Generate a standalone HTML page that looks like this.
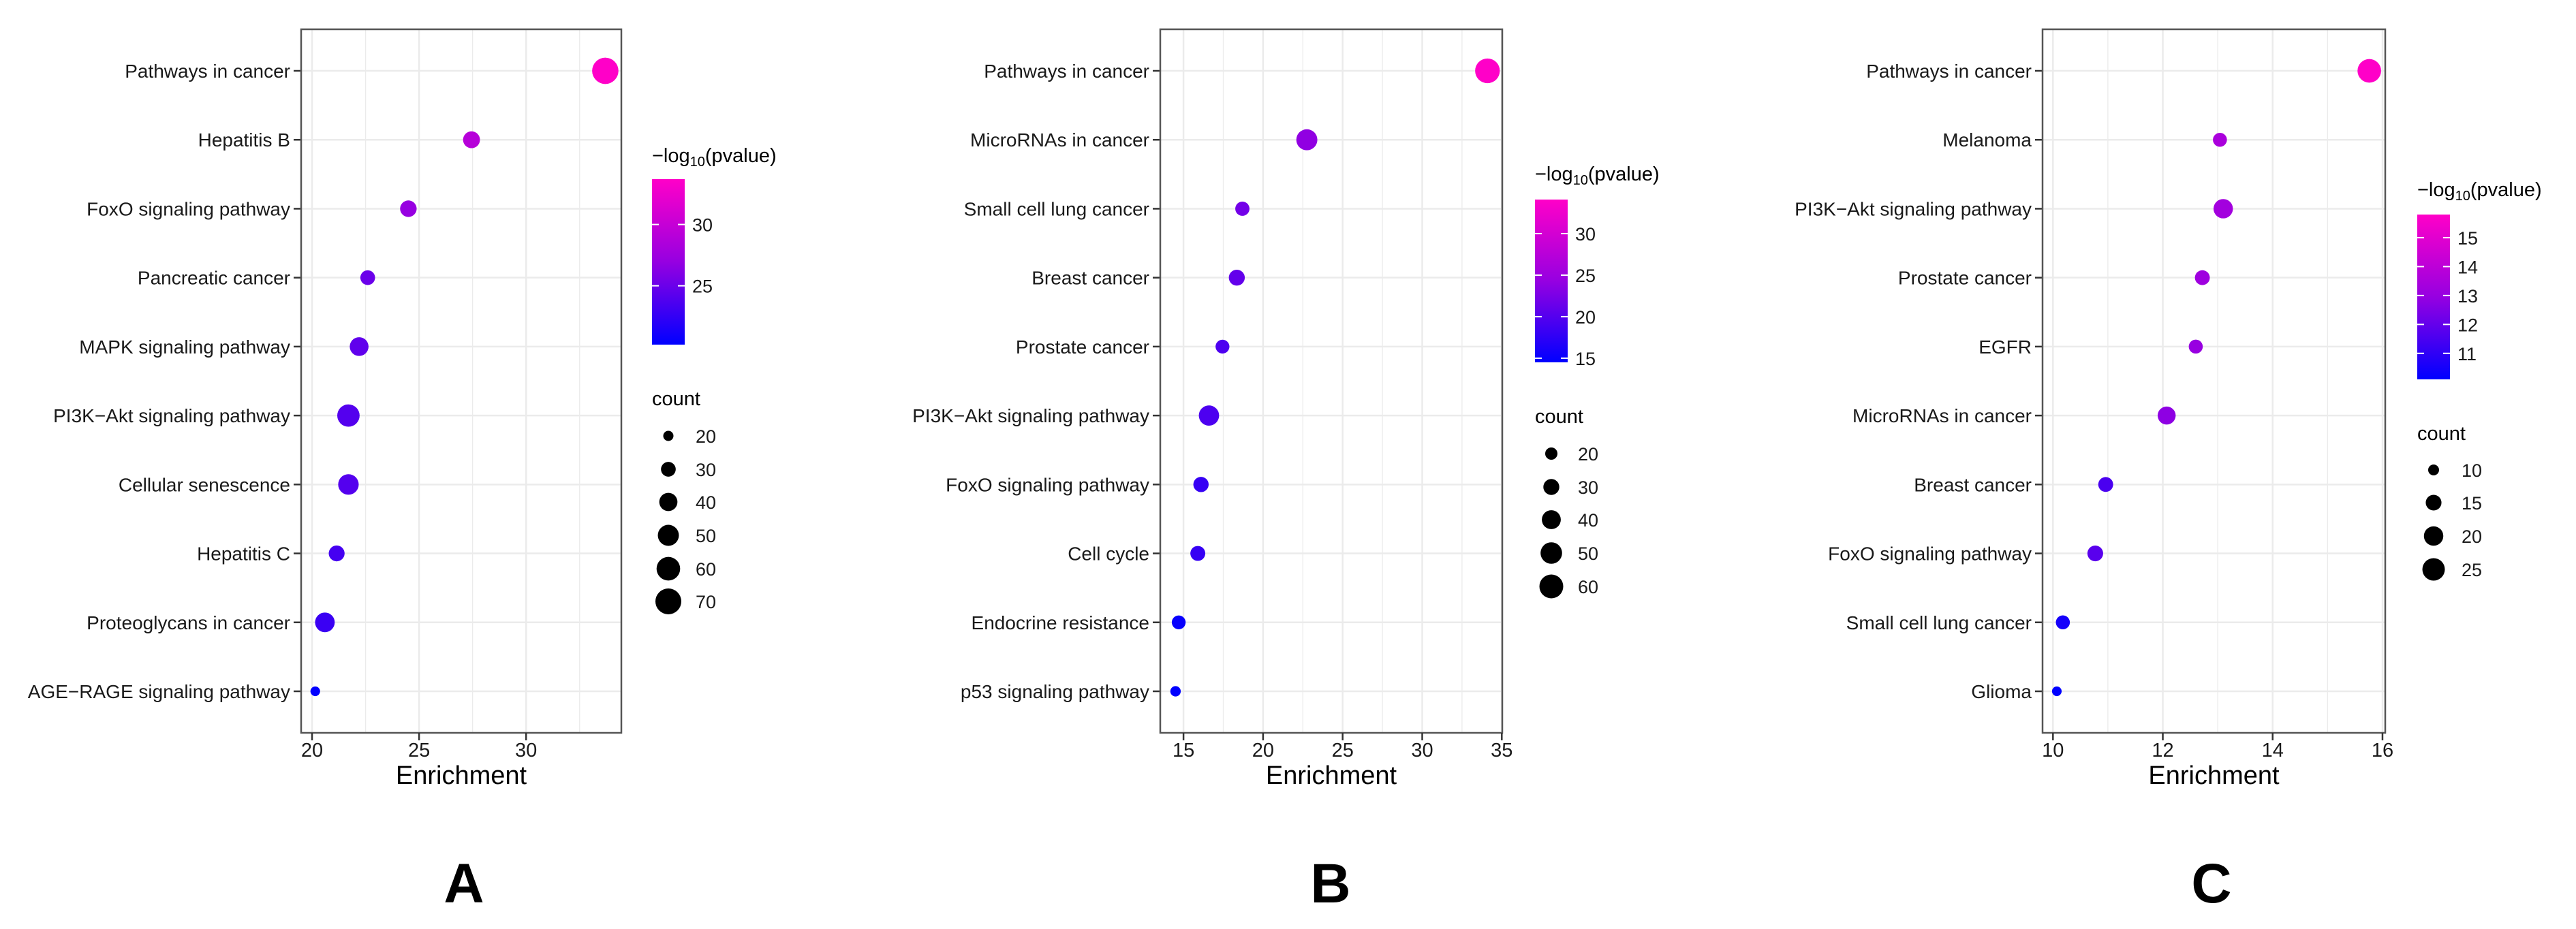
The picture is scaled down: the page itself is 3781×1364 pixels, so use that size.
<!DOCTYPE html>
<html><head><meta charset="utf-8"><style>
html,body{margin:0;padding:0;background:#fff;width:3781px;height:1364px;overflow:hidden}
svg{display:block;font-family:"Liberation Sans",Arial,sans-serif}
</style></head><body>
<svg id="fig" width="3781" height="1364" viewBox="0 0 3781 1364" xmlns="http://www.w3.org/2000/svg"></svg>
<script>
// Panel A data
const catsA = ["Pathways in cancer","Hepatitis B","FoxO signaling pathway","Pancreatic cancer","MAPK signaling pathway","PI3K\u2212Akt signaling pathway","Cellular senescence","Hepatitis C","Proteoglycans in cancer","AGE\u2212RAGE signaling pathway"];
const enrichA = [33.7,27.45,24.5,22.6,22.2,21.7,21.7,21.15,20.6,20.15];
const logpA = [33.7,29,27,25,24.5,24,24,23.3,22.8,20.3];
const countA = [72,36,35,30,42,55,48,33,45,19];
const xTicksA = [20,25,30];
const cbTicksA = [25,30];
const sizeTicksA = [20,30,40,50,60,70];
// Panel B data
const catsB = ["Pathways in cancer","MicroRNAs in cancer","Small cell lung cancer","Breast cancer","Prostate cancer","PI3K\u2212Akt signaling pathway","FoxO signaling pathway","Cell cycle","Endocrine resistance","p53 signaling pathway"];
const enrichB = [34.1,22.75,18.7,18.35,17.45,16.6,16.1,15.9,14.7,14.5];
const logpB = [34.1,24,22,21,19.5,19.5,18,18,15,14.5];
const countB = [64,48,25,30,24,45,28,27,24,16];
const xTicksB = [15,20,25,30,35];
const cbTicksB = [15,20,25,30];
const sizeTicksB = [20,30,40,50,60];
// Panel C data
const catsC = ["Pathways in cancer","Melanoma","PI3K\u2212Akt signaling pathway","Prostate cancer","EGFR","MicroRNAs in cancer","Breast cancer","FoxO signaling pathway","Small cell lung cancer","Glioma"];
const enrichC = [15.76,13.04,13.1,12.72,12.6,12.07,10.96,10.77,10.18,10.07];
const logpC = [15.8,13.5,13.3,13.2,13,12.8,11.5,11.8,10.5,10.1];
const countC = [27,13,20,14,13,18,14,15,13,9];
const xTicksC = [10,12,14,16];
const cbTicksC = [11,12,13,14,15];
const sizeTicksC = [10,15,20,25];

const NS="http://www.w3.org/2000/svg";
const svg=document.getElementById('fig');
function mk(tag,attrs,parent){const e=document.createElementNS(NS,tag);for(const k in attrs)e.setAttribute(k,attrs[k]);(parent||svg).appendChild(e);return e;}
function colorOf(t){
  const stops=[[0,0,255],[150,0,225],[255,0,200]];
  let a,b,u; if(t<0.5){a=stops[0];b=stops[1];u=t/0.5;}else{a=stops[1];b=stops[2];u=(t-0.5)/0.5;}
  u=Math.max(0,Math.min(1,u));
  return 'rgb('+a.map((v,i)=>Math.round(v+(b[i]-v)*u)).join(',')+')';
}

const panels=[
 {id:'a',letter:'A',cats:catsA,x:enrichA,c:logpA,n:countA,xt:xTicksA,cbt:cbTicksA,st:sizeTicksA,
  box:[442,912],xd:[19.49,34.45],cb:[957,1005,263,506],cbd:[20.2,33.7],sz:[20,7.5,70,19],
  ctitleY:228,cntY:585,entY:[640,689,737,786,835,883],dotX:981,lblX:1021,letterX:681},
 {id:'b',letter:'B',cats:catsB,x:enrichB,c:logpB,n:countB,xt:xTicksB,cbt:cbTicksB,st:sizeTicksB,
  box:[1703,2205],xd:[13.54,35.03],cb:[2253,2301,293,532],cbd:[14.5,34.1],sz:[20,9,60,17.5],
  ctitleY:255,cntY:611,entY:[666,715,763,812,861],dotX:2277,lblX:2316,letterX:1953},
 {id:'c',letter:'C',cats:catsC,x:enrichC,c:logpC,n:countC,xt:xTicksC,cbt:cbTicksC,st:sizeTicksC,
  box:[2998,3501],xd:[9.81,16.05],cb:[3548,3596,315,557],cbd:[10.1,15.8],sz:[10,8,25,16.5],
  ctitleY:278,cntY:636,entY:[690,738,787,836],dotX:3572,lblX:3613,letterX:3246}
];
const TOP=43,BOT=1076,ROW0=104,ROWSTEP=(1015-104)/9;

panels.forEach(p=>{
  const g=mk('g',{});
  
  
  const [x0,x1]=p.box;
  const xs=v=>x0+(v-p.xd[0])/(p.xd[1]-p.xd[0])*(x1-x0);
  const ys=i=>ROW0+i*ROWSTEP;
  const cs=v=>(v-p.cbd[0])/(p.cbd[1]-p.cbd[0]);
  const [sa,ra,sb,rb]=p.sz;
  const bb=(rb*rb-ra*ra)/(sb-sa);
  const rs=n=>Math.sqrt(Math.max(16,ra*ra+(n-sa)*bb));
  const step=p.xt[1]-p.xt[0];
  for(let v=p.xt[0]-step/2;v<=p.xd[1];v+=step/2){
    if(v<p.xd[0])continue;
    const major=p.xt.some(t=>Math.abs(t-v)<1e-6);
    const l=mk('line',{x1:xs(v),x2:xs(v),y1:TOP,y2:BOT,stroke:'#ebebeb','stroke-width':major?2.5:1.3},g);
    
    
  }
  p.cats.forEach((c,i)=>{
    const l=mk('line',{x1:x0,x2:x1,y1:ys(i),y2:ys(i),stroke:'#ebebeb','stroke-width':2.5},g);
    
    
    const tk=mk('line',{x1:x0-11,x2:x0,y1:ys(i),y2:ys(i),stroke:'#333','stroke-width':2.5},g);
    
    
    const t=mk('text',{x:x0-16,y:ys(i)+10,'text-anchor':'end','font-size':28,fill:'#1a1a1a'},g);
    t.textContent=c;
    
    
  });
  p.cats.forEach((c,i)=>{
    const d=mk('circle',{cx:xs(p.x[i]),cy:ys(i),r:rs(p.n[i]),fill:colorOf(cs(p.c[i]))},g);
    
    
  });
  const bx=mk('rect',{x:x0,y:TOP,width:x1-x0,height:BOT-TOP,fill:'none',stroke:'#555','stroke-width':2.5},g);
  
  
  p.xt.forEach(v=>{
    const tk=mk('line',{x1:xs(v),x2:xs(v),y1:BOT,y2:BOT+11,stroke:'#333','stroke-width':2.5},g);
    
    
    const t=mk('text',{x:xs(v),y:1111,'text-anchor':'middle','font-size':29,fill:'#1a1a1a'},g);
    t.textContent=v;
    
    
  });
  const xt=mk('text',{x:(x0+x1)/2,y:1151,'text-anchor':'middle','font-size':38,fill:'#000'},g);
  xt.textContent='Enrichment';
  
  
  const [cx0,cx1,cy0,cy1]=p.cb;
  const gid='grad'+p.id;
  const defs=mk('defs',{},g);
  const lg=mk('linearGradient',{id:gid,x1:0,y1:1,x2:0,y2:0},defs);
  for(let k=0;k<=10;k++){mk('stop',{offset:k/10,'stop-color':colorOf(k/10)},lg);}
  const ct=mk('text',{x:cx0,y:p.ctitleY+10,'font-size':29,fill:'#000'},g);
  ct.innerHTML='\u2212log<tspan font-size="20" dy="6">10</tspan><tspan dy="-6">(pvalue)</tspan>';
  
  
  const cr=mk('rect',{x:cx0,y:cy0,width:cx1-cx0,height:cy1-cy0,fill:'url(#'+gid+')'},g);
  
  
  p.cbt.forEach(v=>{
    const yy=cy1-(v-p.cbd[0])/(p.cbd[1]-p.cbd[0])*(cy1-cy0);
    mk('line',{x1:cx0,x2:cx0+10,y1:yy,y2:yy,stroke:'#fff','stroke-width':2},g);
    mk('line',{x1:cx1-10,x2:cx1,y1:yy,y2:yy,stroke:'#fff','stroke-width':2},g);
    const t=mk('text',{x:cx1+11,y:yy+10,'font-size':27,fill:'#1a1a1a'},g);
    t.textContent=v;
    
    
  });
  const nt=mk('text',{x:cx0,y:p.cntY+10,'font-size':29,fill:'#000'},g);
  nt.textContent='count';
  
  
  p.st.forEach((v,k)=>{
    const d=mk('circle',{cx:p.dotX,cy:p.entY[k],r:rs(v),fill:'#000'},g);
    
    
    const t=mk('text',{x:p.lblX,y:p.entY[k]+10,'font-size':27,fill:'#1a1a1a'},g);
    t.textContent=v;
    
    
  });
  const L=mk('text',{x:p.letterX,y:1325,'text-anchor':'middle','font-size':82,'font-weight':'bold',fill:'#000'},g);
  L.textContent=p.letter;
  
  
});
</script>
</body></html>
